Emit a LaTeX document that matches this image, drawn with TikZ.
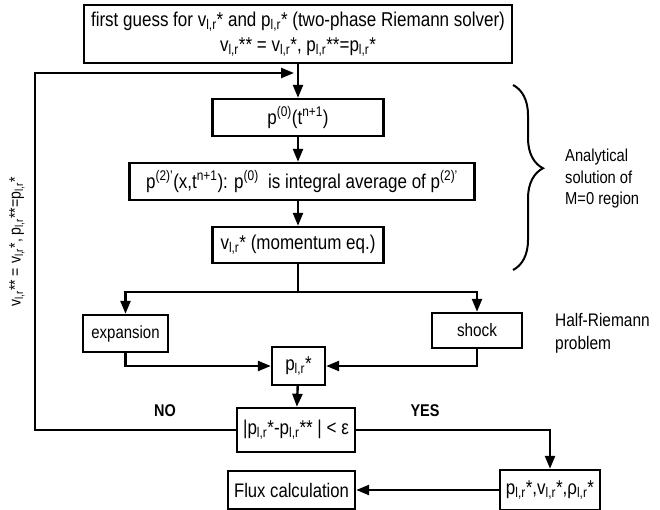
\documentclass[tikz,border=0pt]{standalone}
\usepackage{fontspec}
\setmainfont{Liberation Sans}[FakeStretch=0.85]
\usetikzlibrary{arrows.meta,decorations.pathreplacing}
\newcommand{\fsz}[2]{\fontsize{#1}{#2}\selectfont}
\begin{document}
\begin{tikzpicture}[x=1pt,y=-1pt,
 box/.style={draw,line width=2.4pt,align=center,inner sep=1pt,font=\fsz{20}{25}},
 arr/.style={line width=2.4pt,-{Triangle[length=13pt,width=10pt]}},
 ln/.style={line width=2.4pt},
 lbl/.style={align=left,inner sep=0pt}]
\useasboundingbox (0,0) rectangle (660,510);
\node[box,minimum width=428pt,minimum height=58pt] (top) at (298,34)
 {first guess for v\textsubscript{l,r}* and p\textsubscript{l,r}* (two-phase Riemann solver)\\
  v\textsubscript{l,r}** = v\textsubscript{l,r}*, p\textsubscript{l,r}**=p\textsubscript{l,r}*};
\node[box,minimum width=171pt,minimum height=37pt] (p0) at (298,117.5)
 {p\textsuperscript{(0)}(t\textsuperscript{n+1})};
\node[box,minimum width=345pt,minimum height=37pt] (p2) at (302,181.5)
 {p\textsuperscript{(2)'}(x,t\textsuperscript{n+1}): p\textsuperscript{(0)}\ \ is integral average of p\textsuperscript{(2)'}};
\node[box,minimum width=171pt,minimum height=36pt] (v) at (298,245)
 {v\textsubscript{l,r}* (momentum eq.)};
\node[box,minimum width=85pt,minimum height=37pt,font=\fsz{17.6}{21}] (exp) at (125.5,333.5) {expansion};
\node[box,minimum width=90pt,minimum height=35pt,font=\fsz{18}{21}] (shock) at (477,330.5) {shock};
\node[box,minimum width=53pt,minimum height=38pt] (pstar) at (298.5,366) {p\textsubscript{l,r}*};
\node[box,minimum width=118pt,minimum height=44pt] (cond) at (296,430)
 {|p\textsubscript{l,r}*-p\textsubscript{l,r}** | < ε};
\node[box,minimum width=100pt,minimum height=40pt] (res) at (550,490)
 {p\textsubscript{l,r}*,v\textsubscript{l,r}*,ρ\textsubscript{l,r}*};
\node[box,minimum width=127pt,minimum height=38pt,font=\fsz{19.6}{23}] (flux) at (291.5,490) {Flux calculation};
\coordinate (j) at (298,292);
\coordinate (c2) at (35,73);
\coordinate (c3) at (294,73);
\draw[arr] (top) -- (p0);
\draw[arr] (p0) -- (p0 |- p2.north);
\draw[arr] (p0 |- p2.south) -- (v);
\draw[ln] (v.south) -- (j);
\draw[arr] (j) -| (exp.north);
\draw[arr] (j) -| (shock.north);
\draw[arr] (exp.south) |- (pstar.west);
\draw[arr] (shock.south) |- (pstar.east);
\draw[arr] (pstar) -- (cond);
\draw[arr] (cond.west) -| (c2) -- (c3);
\draw[arr] (cond.east) -| (res.north);
\draw[arr] (res.west) -- (flux.east);
\node[font=\bfseries\fsz{17}{20}] (no) at (165,411) {NO};
\node[font=\bfseries\fsz{17}{20}] (yes) at (425,411) {YES};
\draw[line width=2pt,decorate,decoration={brace,amplitude=30pt,aspect=0.45}] (513,85) -- (513,270);
\node[lbl,align=left,font=\fsz{17.3}{21.5},anchor=west] (ana) at (565,179) {Analytical\\solution of\\M=0 region};
\node[lbl,anchor=west,font=\fsz{18.2}{23}] (half) at (555,333) {Half-Riemann\\problem};
\node[lbl,rotate=90,font=\fsz{16.5}{18}] (loop) at (17,242)
 {v\textsubscript{l,r}** = v\textsubscript{l,r}*, p\textsubscript{l,r}**=p\textsubscript{l,r}*};
\end{tikzpicture}
\end{document}
